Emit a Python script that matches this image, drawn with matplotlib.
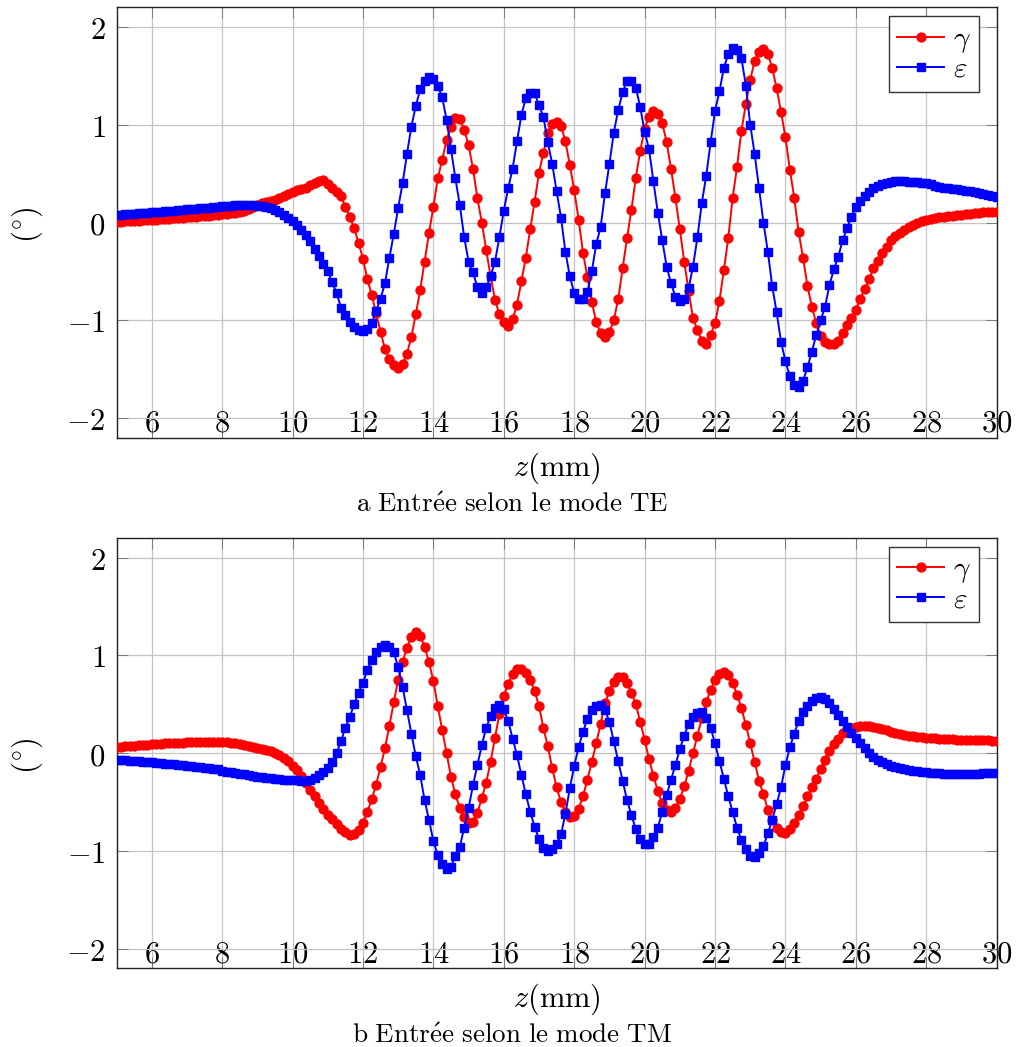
import numpy as np
import matplotlib
matplotlib.use("Agg")
import matplotlib.pyplot as plt
from matplotlib.ticker import FuncFormatter

plt.rcParams['mathtext.fontset'] = 'cm'
plt.rcParams['font.family'] = ['DejaVu Serif']

# z grid (mm): 5 .. 30 step 0.125
z = np.arange(5, 30.0001, 0.125)

# ---- TE mode (top) ----
te_gamma = [
    0.01, 0.01, 0.02, 0.02, 0.02, 0.02, 0.03, 0.03,
    0.03, 0.03, 0.04, 0.04, 0.04, 0.05, 0.05, 0.05,
    0.06, 0.06, 0.06, 0.07, 0.07, 0.07, 0.08, 0.08,
    0.09, 0.09, 0.10, 0.10, 0.11, 0.12, 0.14, 0.16,
    0.18, 0.20, 0.21, 0.22, 0.23, 0.25, 0.27, 0.29,
    0.31, 0.33, 0.34, 0.35, 0.38, 0.40, 0.42, 0.43,
    0.39, 0.35, 0.31, 0.27, 0.16, 0.06, -0.06, -0.21,
    -0.37, -0.58, -0.74, -0.93, -1.12, -1.29, -1.40, -1.46,
    -1.49, -1.45, -1.34, -1.17, -0.94, -0.69, -0.40, -0.11,
    0.16, 0.45, 0.64, 0.84, 0.98, 1.07, 1.06, 0.95,
    0.79, 0.55, 0.25, 0.00, -0.28, -0.55, -0.79, -0.94,
    -1.02, -1.06, -0.99, -0.84, -0.60, -0.36, -0.07, 0.21,
    0.51, 0.71, 0.91, 1.01, 1.03, 0.99, 0.83, 0.59,
    0.33, 0.03, -0.31, -0.56, -0.81, -1.02, -1.13, -1.17,
    -1.12, -1.00, -0.78, -0.47, -0.16, 0.13, 0.46, 0.73,
    0.96, 1.08, 1.14, 1.11, 1.02, 0.82, 0.55, 0.25,
    -0.07, -0.40, -0.70, -0.98, -1.10, -1.21, -1.24, -1.15,
    -1.03, -0.80, -0.49, -0.16, 0.25, 0.57, 0.94, 1.21,
    1.46, 1.65, 1.74, 1.77, 1.72, 1.58, 1.37, 1.13,
    0.87, 0.54, 0.25, -0.10, -0.36, -0.65, -0.86, -1.03,
    -1.16, -1.22, -1.24, -1.24, -1.21, -1.13, -1.05, -0.98,
    -0.89, -0.78, -0.68, -0.58, -0.47, -0.39, -0.31, -0.25,
    -0.18, -0.14, -0.11, -0.08, -0.05, -0.03, 0.00, 0.02,
    0.03, 0.04, 0.05, 0.06, 0.06, 0.07, 0.07, 0.08,
    0.08, 0.09, 0.09, 0.10, 0.10, 0.11, 0.11, 0.11,
    0.11,
]
te_eps = [
    0.08, 0.08, 0.09, 0.09, 0.09, 0.10, 0.10, 0.10,
    0.11, 0.11, 0.11, 0.12, 0.12, 0.12, 0.13, 0.13,
    0.14, 0.14, 0.14, 0.15, 0.15, 0.15, 0.16, 0.16,
    0.17, 0.17, 0.17, 0.18, 0.18, 0.18, 0.18, 0.18,
    0.17, 0.17, 0.16, 0.15, 0.13, 0.11, 0.08, 0.05,
    0.02, -0.03, -0.08, -0.13, -0.19, -0.27, -0.34, -0.42,
    -0.50, -0.61, -0.72, -0.87, -0.95, -1.02, -1.07, -1.10,
    -1.11, -1.09, -1.03, -0.90, -0.78, -0.62, -0.36, -0.12,
    0.15, 0.40, 0.70, 0.98, 1.19, 1.36, 1.45, 1.49,
    1.47, 1.40, 1.28, 1.05, 0.75, 0.45, 0.18, -0.15,
    -0.40, -0.51, -0.66, -0.72, -0.66, -0.55, -0.40, -0.15,
    0.12, 0.35, 0.55, 0.83, 1.10, 1.27, 1.32, 1.32,
    1.20, 1.08, 0.82, 0.60, 0.32, 0.05, -0.30, -0.55,
    -0.72, -0.78, -0.78, -0.71, -0.50, -0.22, -0.05, 0.30,
    0.60, 0.92, 1.15, 1.33, 1.45, 1.45, 1.38, 1.18,
    0.93, 0.75, 0.42, 0.10, -0.18, -0.45, -0.62, -0.76,
    -0.80, -0.78, -0.67, -0.45, -0.15, 0.20, 0.48, 0.82,
    1.14, 1.34, 1.58, 1.72, 1.78, 1.76, 1.68, 1.40,
    1.00, 0.70, 0.35, 0.00, -0.30, -0.65, -0.92, -1.22,
    -1.42, -1.57, -1.66, -1.68, -1.62, -1.48, -1.32, -1.15,
    -1.00, -0.86, -0.64, -0.48, -0.35, -0.18, -0.06, 0.06,
    0.16, 0.22, 0.27, 0.31, 0.35, 0.37, 0.39, 0.40,
    0.41, 0.42, 0.42, 0.42, 0.41, 0.41, 0.41, 0.40,
    0.40, 0.39, 0.37, 0.36, 0.35, 0.35, 0.34, 0.34,
    0.33, 0.32, 0.32, 0.31, 0.30, 0.29, 0.28, 0.27,
    0.26,
]

# ---- TM mode (bottom) ----
tm_gamma = [
    0.06, 0.06, 0.07, 0.07, 0.07, 0.08, 0.08, 0.08,
    0.09, 0.09, 0.09, 0.10, 0.10, 0.10, 0.10, 0.10,
    0.11, 0.11, 0.11, 0.11, 0.11, 0.11, 0.11, 0.11,
    0.11, 0.11, 0.10, 0.10, 0.09, 0.08, 0.07, 0.06,
    0.05, 0.04, 0.03, 0.02, 0.00, -0.02, -0.05, -0.08,
    -0.13, -0.17, -0.23, -0.30, -0.38, -0.44, -0.51, -0.57,
    -0.63, -0.67, -0.72, -0.78, -0.81, -0.84, -0.83, -0.79,
    -0.71, -0.60, -0.47, -0.32, -0.14, 0.05, 0.28, 0.52,
    0.75, 0.93, 1.08, 1.19, 1.24, 1.20, 1.09, 0.93,
    0.74, 0.48, 0.24, 0.00, -0.24, -0.42, -0.56, -0.65,
    -0.71, -0.70, -0.61, -0.46, -0.30, -0.09, 0.16, 0.40,
    0.58, 0.71, 0.81, 0.86, 0.86, 0.82, 0.75, 0.64,
    0.48, 0.26, 0.07, -0.15, -0.35, -0.50, -0.60, -0.65,
    -0.64, -0.57, -0.44, -0.27, -0.09, 0.10, 0.30, 0.51,
    0.64, 0.73, 0.78, 0.78, 0.72, 0.62, 0.50, 0.32,
    0.14, -0.06, -0.23, -0.39, -0.51, -0.58, -0.60, -0.56,
    -0.47, -0.34, -0.18, 0.00, 0.18, 0.36, 0.52, 0.65,
    0.75, 0.81, 0.83, 0.80, 0.72, 0.60, 0.46, 0.29,
    0.10, -0.09, -0.28, -0.42, -0.58, -0.68, -0.76, -0.81,
    -0.82, -0.78, -0.71, -0.63, -0.54, -0.44, -0.35, -0.26,
    -0.16, -0.07, 0.02, 0.09, 0.15, 0.21, 0.24, 0.26,
    0.27, 0.28, 0.28, 0.28, 0.27, 0.26, 0.25, 0.24,
    0.22, 0.21, 0.20, 0.19, 0.18, 0.18, 0.17, 0.17,
    0.16, 0.16, 0.16, 0.15, 0.15, 0.15, 0.15, 0.14,
    0.14, 0.14, 0.14, 0.13, 0.13, 0.13, 0.13, 0.12,
    0.12,
]
tm_eps = [
    -0.07, -0.07, -0.07, -0.08, -0.08, -0.08, -0.09, -0.09,
    -0.09, -0.10, -0.10, -0.11, -0.11, -0.11, -0.12, -0.12,
    -0.13, -0.13, -0.14, -0.14, -0.15, -0.15, -0.16, -0.16,
    -0.18, -0.19, -0.19, -0.20, -0.21, -0.21, -0.22, -0.23,
    -0.24, -0.24, -0.25, -0.25, -0.26, -0.26, -0.27, -0.27,
    -0.27, -0.27, -0.28, -0.28, -0.27, -0.25, -0.22, -0.19,
    -0.15, -0.09, 0.00, 0.12, 0.26, 0.37, 0.50, 0.62,
    0.72, 0.85, 0.95, 1.03, 1.09, 1.11, 1.09, 1.03,
    0.88, 0.68, 0.44, 0.20, -0.03, -0.22, -0.48, -0.68,
    -0.90, -1.04, -1.13, -1.18, -1.16, -1.05, -0.96, -0.76,
    -0.56, -0.33, -0.12, 0.08, 0.26, 0.38, 0.46, 0.49,
    0.45, 0.33, 0.15, -0.02, -0.22, -0.42, -0.60, -0.75,
    -0.88, -0.97, -1.00, -0.98, -0.93, -0.83, -0.62, -0.36,
    -0.13, 0.06, 0.22, 0.35, 0.44, 0.48, 0.49, 0.44,
    0.32, 0.12, -0.08, -0.28, -0.48, -0.63, -0.78, -0.88,
    -0.93, -0.93, -0.86, -0.76, -0.60, -0.43, -0.27, -0.12,
    0.04, 0.18, 0.30, 0.37, 0.41, 0.42, 0.36, 0.26,
    0.10, -0.08, -0.26, -0.44, -0.60, -0.76, -0.89, -0.98,
    -1.05, -1.06, -1.02, -0.95, -0.82, -0.68, -0.52, -0.35,
    -0.12, 0.06, 0.20, 0.33, 0.42, 0.48, 0.53, 0.56,
    0.57, 0.55, 0.51, 0.45, 0.39, 0.33, 0.27, 0.21,
    0.16, 0.10, 0.05, 0.00, -0.04, -0.07, -0.09, -0.11,
    -0.13, -0.14, -0.15, -0.16, -0.17, -0.18, -0.18, -0.19,
    -0.19, -0.20, -0.20, -0.20, -0.21, -0.21, -0.21, -0.21,
    -0.21, -0.21, -0.21, -0.21, -0.21, -0.20, -0.20, -0.20,
    -0.20,
]

x_ticks = [6, 8, 10, 12, 14, 16, 18, 20, 22, 24, 26, 28, 30]
y_ticks = [-2, -1, 0, 1, 2]
captions = [r'$\mathrm{a\ Entr\acute{e}e\ selon\ le\ mode\ TE}$',
            r'$\mathrm{b\ Entr\acute{e}e\ selon\ le\ mode\ TM}$']

W, H = 1016, 1047
fig = plt.figure(figsize=(W / 100, H / 100), dpi=100)
AX_L, AX_R = 116.5, 996.7
AX_H = 430.4

def px_axes(l, t, r, b):
    return fig.add_axes([l / W, 1 - b / H, (r - l) / W, (b - t) / H])

tops = [7.3, 538.0]
ax_top = px_axes(AX_L, tops[0], AX_R, tops[0] + AX_H)
ax_bot = px_axes(AX_L, tops[1], AX_R, tops[1] + AX_H)

fmt = FuncFormatter(lambda v, p: r'$%d$' % v if v >= 0 else r'$-%d$' % (-v))
FS = 22
leg_x = (979.3 - AX_L) / (AX_R - AX_L)
leg_y = 1 - (16.0 - 7.3) / AX_H

for ax, top, g, e, cap in [(ax_top, tops[0], te_gamma, te_eps, captions[0]),
                           (ax_bot, tops[1], tm_gamma, tm_eps, captions[1])]:
    ax.plot(z, g, color='#ff0000', lw=1.4, marker='o', ms=6.4,
            mec='#ff0000', mfc='#ff0000', label=r'$\gamma$', zorder=3)
    ax.plot(z, e, color='#0000ff', lw=1.4, marker='s', ms=6.0,
            mec='#0000ff', mfc='#0000ff', label=r'$\varepsilon$', zorder=3)
    ax.set_xlim(5, 30)
    ax.set_ylim(-2.2, 2.2)
    ax.set_xticks(x_ticks)
    ax.set_yticks(y_ticks)
    ax.xaxis.set_major_formatter(fmt)
    ax.yaxis.set_major_formatter(fmt)
    ax.grid(True, color='#c4c4c4', lw=0.9)
    ax.set_axisbelow(True)
    ax.tick_params(direction='in', top=True, right=True, length=8,
                   width=0.7, color='#7a7a7a', labelsize=FS)
    ax.tick_params(axis='y', pad=8)
    ax.tick_params(axis='x', pad=-21.5)
    for s in ax.spines.values():
        s.set_linewidth(1.0)
        s.set_color('#222222')
    ax.text(0.5, -30.5 / AX_H, r'$z\mathrm{(mm)}$', transform=ax.transAxes,
            ha='center', va='center', fontsize=FS)
    ax.text(-89.0 / (AX_R - AX_L), 0.494, r'$(^{\circ})$', transform=ax.transAxes,
            ha='center', va='center', rotation=90, fontsize=FS)
    fig.text(512.0 / W, 1 - (top + AX_H + 67.0) / H, cap, ha='center',
             va='center', fontsize=19.5)
    leg = ax.legend(loc='upper right', bbox_to_anchor=(leg_x, leg_y),
                    borderaxespad=0.0, fontsize=21, frameon=True,
                    fancybox=False, edgecolor='#333333', handlelength=1.6,
                    handletextpad=0.3, borderpad=0.3, labelspacing=0.0,
                    markerscale=1.0, framealpha=1.0)
    leg.get_frame().set_linewidth(1.0)

fig.savefig('out.png', dpi=100)
